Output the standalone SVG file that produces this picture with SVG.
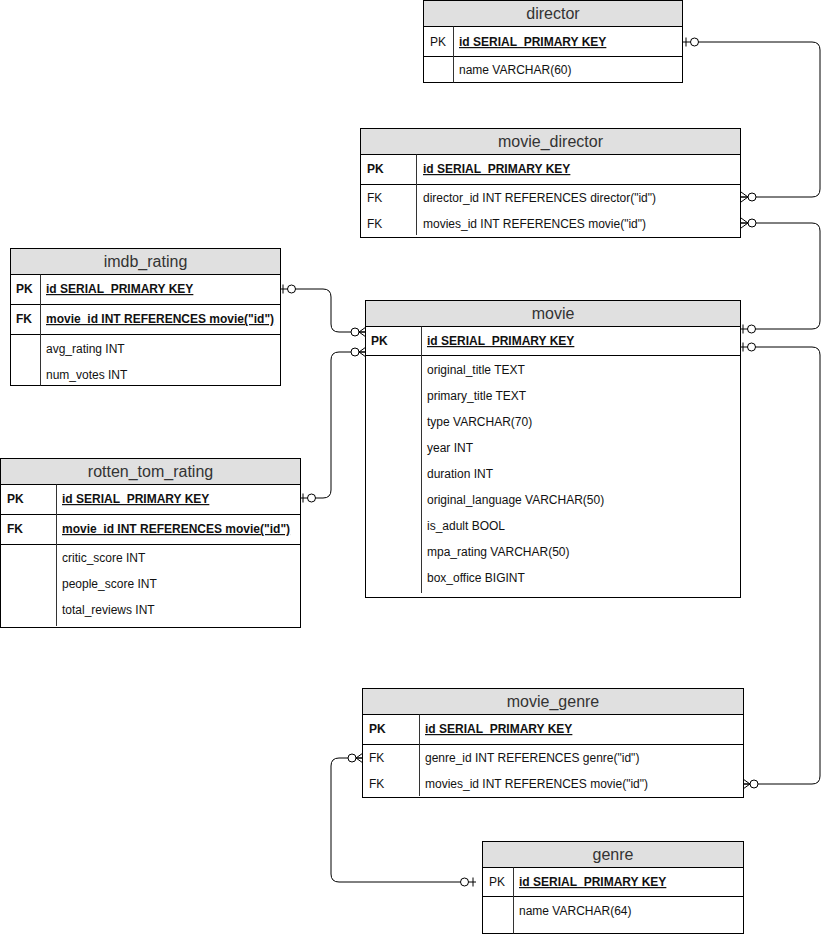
<svg xmlns="http://www.w3.org/2000/svg" width="831" height="935" viewBox="0 0 831 935">
  <style>
    .box { fill: #ffffff; stroke: #000000; stroke-width: 1; }
    .hdr { fill: #e0e0e0; stroke: #000000; stroke-width: 1; }
    .sep { stroke: #000000; stroke-width: 1; fill: none; }
    .div { stroke: #333333; stroke-width: 1; fill: none; }
    .title { font-family: "Liberation Sans", Arial, sans-serif; font-size: 16px; fill: #333333; text-anchor: middle; }
    .t { font-family: "Liberation Sans", Arial, sans-serif; font-size: 12px; fill: #111111; }
    .b { font-weight: bold; }
    .u { text-decoration: underline; }
    .edge { fill: none; stroke: #000000; stroke-width: 1; }
  </style>
  <defs>
    <!-- zero-or-one: bar next to the table, open circle further out -->
    <marker id="zero-one" viewBox="-20 -8 22 16" markerWidth="22" markerHeight="16" refX="0" refY="0" orient="auto-start-reverse" markerUnits="userSpaceOnUse">
      <path d="M-3,-4.5 V4.5" stroke="#000" stroke-width="1" fill="none"/>
      <circle cx="-11.5" cy="0" r="4" fill="#fff" stroke="#000" stroke-width="1"/>
    </marker>
    <!-- zero-or-many: crow's foot next to the table, open circle further out -->
    <marker id="zero-many" viewBox="-20 -8 22 16" markerWidth="22" markerHeight="16" refX="0" refY="0" orient="auto-start-reverse" markerUnits="userSpaceOnUse">
      <path d="M0,-5 L-7,0 L0,5 M0,0 H-7" stroke="#000" stroke-width="1" fill="none"/>
      <circle cx="-11" cy="0" r="4" fill="#fff" stroke="#000" stroke-width="1"/>
    </marker>
  </defs>

  <rect x="0" y="0" width="831" height="935" fill="#ffffff"/>

  <g id="connectors">
    <!-- director.id -> movie_director.director_id -->
    <path class="edge" d="M683,42 H812 Q820,42 820,50 V189 Q820,197 812,197 H741" marker-start="url(#zero-one)" marker-end="url(#zero-many)"/>
    <!-- movie_director.movies_id -> movie.id -->
    <path class="edge" d="M741,223 H812 Q820,223 820,231 V321 Q820,329 812,329 H740" marker-start="url(#zero-many)" marker-end="url(#zero-one)"/>
    <!-- movie.id -> movie_genre.movies_id -->
    <path class="edge" d="M740,347 H812 Q820,347 820,355 V776 Q820,784 812,784 H743" marker-start="url(#zero-one)" marker-end="url(#zero-many)"/>
    <!-- imdb_rating.id -> movie -->
    <path class="edge" d="M280,289 H323 Q331,289 331,297 V324 Q331,332 339,332 H366" marker-start="url(#zero-one)" marker-end="url(#zero-many)"/>
    <!-- rotten_tom_rating.id -> movie -->
    <path class="edge" d="M300,498 H323 Q331,498 331,490 V360 Q331,352 339,352 H366" marker-start="url(#zero-one)" marker-end="url(#zero-many)"/>
    <!-- movie_genre.genre_id -> genre.id -->
    <path class="edge" d="M363,758 H339 Q331,758 331,766 V874 Q331,882 339,882 H476" marker-start="url(#zero-many)" marker-end="url(#zero-one)"/>
  </g>

  <g id="director">
    <rect class="box" x="423.5" y="0.5" width="259" height="82"/>
    <rect class="hdr" x="423.5" y="0.5" width="259" height="26"/>
    <line class="sep" x1="423.5" y1="56.5" x2="682.5" y2="56.5"/>
    <line class="div" x1="453.5" y1="26.5" x2="453.5" y2="82.5"/>
    <text class="title" x="553" y="19">director</text>
    <text class="t" x="430" y="46">PK</text>
    <text class="t b u" x="459" y="46">id SERIAL_PRIMARY KEY</text>
    <text class="t" x="459" y="74">name VARCHAR(60)</text>
  </g>

  <g id="movie_director">
    <rect class="box" x="360.5" y="128.5" width="380" height="109"/>
    <rect class="hdr" x="360.5" y="128.5" width="380" height="26"/>
    <line class="sep" x1="360.5" y1="184.5" x2="740.5" y2="184.5"/>
    <line class="div" x1="416.5" y1="154.5" x2="416.5" y2="235"/>
    <text class="title" x="550.5" y="147">movie_director</text>
    <text class="t b" x="367" y="173">PK</text>
    <text class="t b u" x="423" y="173">id SERIAL_PRIMARY KEY</text>
    <text class="t" x="367" y="202">FK</text>
    <text class="t" x="423" y="202">director_id INT REFERENCES director("id")</text>
    <text class="t" x="367" y="228">FK</text>
    <text class="t" x="423" y="228">movies_id INT REFERENCES movie("id")</text>
  </g>

  <g id="imdb_rating">
    <rect class="box" x="10.5" y="248.5" width="270" height="137"/>
    <rect class="hdr" x="10.5" y="248.5" width="270" height="26"/>
    <line class="sep" x1="10.5" y1="304.5" x2="280.5" y2="304.5"/>
    <line class="sep" x1="10.5" y1="334.5" x2="280.5" y2="334.5"/>
    <line class="div" x1="40.5" y1="274.5" x2="40.5" y2="385.5"/>
    <text class="title" x="145.5" y="267">imdb_rating</text>
    <text class="t b" x="16" y="293">PK</text>
    <text class="t b u" x="46" y="293">id SERIAL_PRIMARY KEY</text>
    <text class="t b" x="16" y="323">FK</text>
    <text class="t b u" x="46" y="323">movie_id INT REFERENCES movie("id")</text>
    <text class="t" x="46" y="353">avg_rating INT</text>
    <text class="t" x="46" y="379">num_votes INT</text>
  </g>

  <g id="rotten_tom_rating">
    <rect class="box" x="0.5" y="458.5" width="300" height="169"/>
    <rect class="hdr" x="0.5" y="458.5" width="300" height="26"/>
    <line class="sep" x1="0.5" y1="514.5" x2="300.5" y2="514.5"/>
    <line class="sep" x1="0.5" y1="544.5" x2="300.5" y2="544.5"/>
    <line class="div" x1="56.5" y1="484.5" x2="56.5" y2="626"/>
    <text class="title" x="150.5" y="477">rotten_tom_rating</text>
    <text class="t b" x="7" y="503">PK</text>
    <text class="t b u" x="62" y="503">id SERIAL_PRIMARY KEY</text>
    <text class="t b" x="7" y="533">FK</text>
    <text class="t b u" x="62" y="533">movie_id INT REFERENCES movie("id")</text>
    <text class="t" x="62" y="562">critic_score INT</text>
    <text class="t" x="62" y="588">people_score INT</text>
    <text class="t" x="62" y="614">total_reviews INT</text>
  </g>

  <g id="movie">
    <rect class="box" x="365.5" y="300.5" width="375" height="297"/>
    <rect class="hdr" x="365.5" y="300.5" width="375" height="26"/>
    <line class="sep" x1="365.5" y1="355.5" x2="740.5" y2="355.5"/>
    <line class="div" x1="421.5" y1="326.5" x2="421.5" y2="593"/>
    <text class="title" x="553" y="319">movie</text>
    <text class="t b" x="371" y="345">PK</text>
    <text class="t b u" x="427" y="345">id SERIAL_PRIMARY KEY</text>
    <text class="t" x="427" y="374">original_title TEXT</text>
    <text class="t" x="427" y="400">primary_title TEXT</text>
    <text class="t" x="427" y="426">type VARCHAR(70)</text>
    <text class="t" x="427" y="452">year INT</text>
    <text class="t" x="427" y="478">duration INT</text>
    <text class="t" x="427" y="504">original_language VARCHAR(50)</text>
    <text class="t" x="427" y="530">is_adult BOOL</text>
    <text class="t" x="427" y="556">mpa_rating VARCHAR(50)</text>
    <text class="t" x="427" y="582">box_office BIGINT</text>
  </g>

  <g id="movie_genre">
    <rect class="box" x="362.5" y="688.5" width="381" height="109"/>
    <rect class="hdr" x="362.5" y="688.5" width="381" height="26"/>
    <line class="sep" x1="362.5" y1="744.5" x2="743.5" y2="744.5"/>
    <line class="div" x1="419.5" y1="714.5" x2="419.5" y2="796"/>
    <text class="title" x="553" y="707">movie_genre</text>
    <text class="t b" x="369" y="733">PK</text>
    <text class="t b u" x="425" y="733">id SERIAL_PRIMARY KEY</text>
    <text class="t" x="369" y="762">FK</text>
    <text class="t" x="425" y="762">genre_id INT REFERENCES genre("id")</text>
    <text class="t" x="369" y="788">FK</text>
    <text class="t" x="425" y="788">movies_id INT REFERENCES movie("id")</text>
  </g>

  <g id="genre">
    <rect class="box" x="482.5" y="841.5" width="261" height="92"/>
    <rect class="hdr" x="482.5" y="841.5" width="261" height="26"/>
    <line class="sep" x1="482.5" y1="896.5" x2="743.5" y2="896.5"/>
    <line class="div" x1="513.5" y1="867.5" x2="513.5" y2="933.5"/>
    <text class="title" x="613" y="860">genre</text>
    <text class="t" x="489" y="886">PK</text>
    <text class="t b u" x="519" y="886">id SERIAL_PRIMARY KEY</text>
    <text class="t" x="519" y="915">name VARCHAR(64)</text>
  </g>
</svg>
